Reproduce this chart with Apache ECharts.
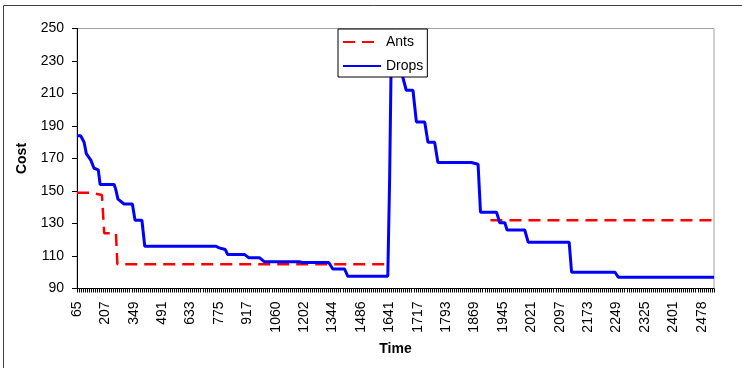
<!DOCTYPE html>
<html>
<head>
<meta charset="utf-8">
<script src="https://cdn.jsdelivr.net/npm/echarts@6/dist/echarts.min.js"></script>
<style>html,body{margin:0;padding:0;background:#fff;}#c{width:742px;height:368px;}</style>
</head>
<body>
<div id="c"></div>
<script>
// Tick labels of the Time axis (one label every 14 sample steps)
const tickLabels = ['65','207','349','491','633','775','917','1060','1202','1344','1486','1641','1717','1793','1869','1945','2021','2097','2173','2249','2325','2401','2478'];
const labelStep = 14;
const xMax = 314;
const costTicks = [90,110,130,150,170,190,210,230,250];

// Ants series: sample position (step index) and cost
const antsIdx  = [0, 6.9, 12.3, 13.4, 19.2, 19.9, 153.1, 153.5, 203.8, 314];
const antsCost = [149, 149, 147.5, 124, 124, 105, 105, null, 132, 132];

// Drops series: sample position (step index) and cost
const dropsIdx  = [0, 1.8, 3.5, 4.6, 6.8, 8.4, 10.5, 11.4, 18.3, 19.1, 20.2, 23.2, 27.3, 28.6, 32, 33.4, 68.5, 70.1, 73.1, 74.2, 82.5, 84.6, 89.9, 92.3, 109.6, 111.1, 124.1, 126.1, 131.9, 133.5, 153.2, 154.1, 155, 157, 160.6, 162.3, 165.6, 167.3, 171.4, 173, 176.3, 177.9, 194.4, 197.7, 198.9, 206.8, 208.4, 210.9, 212, 220.7, 222.4, 242.6, 243.8, 265.2, 266.8, 314];
const dropsCost = [184, 184, 180, 173, 169, 164, 163, 154, 154, 151, 145, 142, 142, 132, 132, 116, 116, 115, 114, 111, 111, 109, 109, 106.5, 106.5, 106, 106, 102, 102, 97.5, 97.5, 157, 243, 238, 220, 212, 212, 192.5, 192.5, 180, 180, 167.5, 167.5, 166.5, 137, 137, 130.5, 130.5, 126, 126, 118.5, 118.5, 100, 100, 97, 97];

const FONT = '"Liberation Sans", Arial, sans-serif';
const labelValues = tickLabels.map((_, i) => i * labelStep);
const minorTickValues = [];
for (let i = 0; i <= xMax; i++) minorTickValues.push(i);

const chart = echarts.init(document.getElementById('c'), null, {renderer: 'canvas'});
chart.setOption({
  animation: false,
  backgroundColor: '#fff',
  textStyle: {fontFamily: FONT},
  grid: {left: 77, top: 28.5, right: 28, bottom: 79.5, show: true, borderColor: '#a0a0a0', borderWidth: 1, backgroundColor: '#fff', containLabel: false, outerBoundsMode: 'none'},
  legend: {
    orient: 'vertical', left: 338, top: 29,
    padding: [6, 4, 4, 4], itemGap: 10, itemWidth: 38, itemHeight: 14, itemTextGap: 6,
    borderColor: '#000', borderWidth: 1, backgroundColor: '#fff',
    itemStyle: {opacity: 0},
    textStyle: {fontFamily: FONT, fontSize: 14, color: '#000'},
    data: ['Ants', 'Drops']
  },
  xAxis: {
    type: 'value', min: 0, max: xMax,
    name: 'Time', nameLocation: 'middle', nameGap: 54,
    nameTextStyle: {fontFamily: FONT, fontSize: 14, fontWeight: 'bold', color: '#000'},
    axisLine: {show: true, lineStyle: {color: '#000', width: 1}},
    axisTick: {show: true, length: 4, customValues: minorTickValues, lineStyle: {color: '#000'}},
    axisLabel: {
      customValues: labelValues, rotate: 90, margin: 13,
      fontFamily: FONT, fontSize: 14, color: '#000',
      formatter: v => tickLabels[Math.round(v / labelStep)] || ''
    },
    splitLine: {show: false}
  },
  yAxis: {
    type: 'value', min: 90, max: 250,
    name: 'Cost', nameLocation: 'middle', nameGap: 48, nameRotate: 90,
    nameTextStyle: {fontFamily: FONT, fontSize: 14, fontWeight: 'bold', color: '#000'},
    axisLine: {show: true, lineStyle: {color: '#000', width: 1}},
    axisTick: {show: true, length: 5, customValues: costTicks, lineStyle: {color: '#000'}},
    axisLabel: {customValues: costTicks, margin: 13, fontFamily: FONT, fontSize: 14, color: '#000'},
    splitLine: {show: false}
  },
  graphic: [{
    type: 'rect', silent: true, z: 100,
    shape: {x: 3.5, y: 5.5, width: 900, height: 500},
    style: {fill: 'none', stroke: '#404040', lineWidth: 1}
  }],
  series: [
    {
      name: 'Ants', type: 'line', symbol: 'none', connectNulls: false,
      data: antsIdx.map((x, i) => [x, antsCost[i]]),
      lineStyle: {color: '#ff0000', width: 2.5, type: [12, 7]},
      itemStyle: {color: '#ff0000'}, z: 2
    },
    {
      name: 'Drops', type: 'line', symbol: 'none',
      data: dropsIdx.map((x, i) => [x, dropsCost[i]]),
      lineStyle: {color: '#0000ff', width: 3},
      itemStyle: {color: '#0000ff'}, z: 3
    }
  ]
});
</script>
</body>
</html>
